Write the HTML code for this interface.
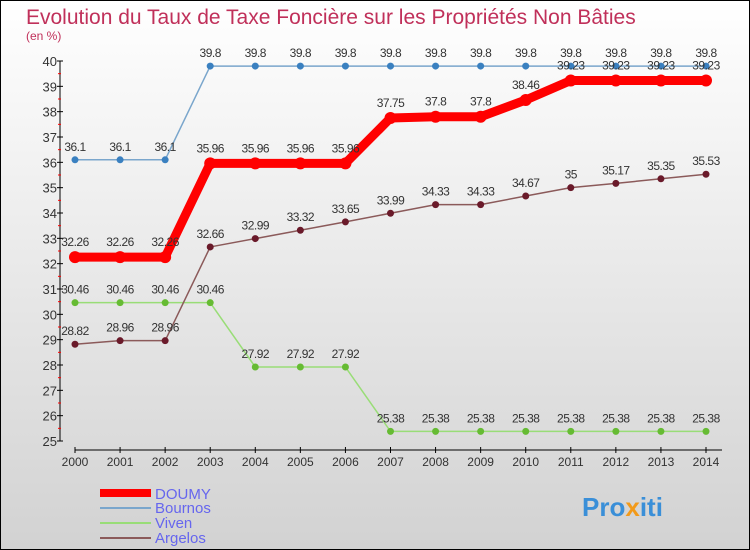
<!DOCTYPE html>
<html><head><meta charset="utf-8"><style>
body{margin:0;width:750px;height:550px;overflow:hidden}
svg{display:block;font-family:"Liberation Sans",sans-serif}
</style></head><body>
<svg id="c" width="750" height="550">
<defs><linearGradient id="bg" x1="0" y1="0" x2="0" y2="1"><stop offset="0" stop-color="#ffffff"/><stop offset="1" stop-color="#d2d2d2"/></linearGradient></defs>
<rect x="0.5" y="0.5" width="749" height="549" fill="url(#bg)" stroke="#000"/>
<text x="26" y="24" font-size="21" fill="#c0305a">Evolution du Taux de Taxe Foncière sur les Propriétés Non Bâties</text>
<text x="26" y="40" font-size="12" fill="#c0305a">(en %)</text>
<g id="axes"></g><g id="series"></g>
<g>
<rect x="100" y="489" width="51" height="8" fill="#f00"/>
<text x="155" y="499" font-size="15" fill="#6666ee">DOUMY</text>
<rect x="100" y="507" width="51" height="2" fill="#7aa6cc"/>
<text x="155" y="513" font-size="15" fill="#6666ee">Bournos</text>
<rect x="100" y="522" width="51" height="2" fill="#99dd77"/>
<text x="155" y="528" font-size="15" fill="#6666ee">Viven</text>
<rect x="100" y="537" width="51" height="2" fill="#8b5a5a"/>
<text x="155" y="543" font-size="15" fill="#6666ee">Argelos</text>
</g>
<text x="582" y="516" font-size="26" font-weight="bold" fill="#3a8fd8">Pro<tspan fill="#f29a1a">x</tspan>iti</text>
</svg>
<script>
const years=[2000,2001,2002,2003,2004,2005,2006,2007,2008,2009,2010,2011,2012,2013,2014];
const doumy=[32.26,32.26,32.26,35.96,35.96,35.96,35.96,37.75,37.8,37.8,38.46,39.23,39.23,39.23,39.23];
const bournos=[36.1,36.1,36.1,39.8,39.8,39.8,39.8,39.8,39.8,39.8,39.8,39.8,39.8,39.8,39.8];
const viven=[30.46,30.46,30.46,30.46,27.92,27.92,27.92,25.38,25.38,25.38,25.38,25.38,25.38,25.38,25.38];
const argelos=[28.82,28.96,28.96,32.66,32.99,33.32,33.65,33.99,34.33,34.33,34.67,35,35.17,35.35,35.53];
const yTicks=[25,26,27,28,29,30,31,32,33,34,35,36,37,38,39,40];
const NS="http://www.w3.org/2000/svg";
const xs=i=>75+i*(706-75)/(years.length-1);
const ys=v=>441-(v-25)*(441-61)/15;
function mk(t,a,p){const e=document.createElementNS(NS,t);for(const k in a)e.setAttribute(k,a[k]);p.appendChild(e);return e;}
const ax=document.getElementById('axes');
let l=mk('line',{x1:60,y1:61,x2:60,y2:441,stroke:'#000'},ax);


yTicks.forEach(v=>{mk('line',{x1:57,x2:63,y1:ys(v),y2:ys(v),stroke:'#000'},ax);
 if(v<40)mk('line',{x1:58,x2:61,y1:ys(v+0.5),y2:ys(v+0.5),stroke:'#f00'},ax);
 const t=mk('text',{x:57,y:ys(v)+5,'font-size':13,'text-anchor':'end',fill:'#333'},ax);t.textContent=v;
 
 });
l=mk('line',{x1:75,y1:450,x2:722,y2:450,stroke:'#000'},ax);


years.forEach((y,i)=>{mk('line',{x1:xs(i),x2:xs(i),y1:447,y2:453,stroke:'#000'},ax);
 const t=mk('text',{x:xs(i),y:466,'font-size':12,'text-anchor':'middle',fill:'#333'},ax);t.textContent=y;
 
 });
const sg=document.getElementById('series');
function draw(name,vals,col,w,r,dot,labOff){
 const g=mk('g',{},sg);
 
 
 mk('polyline',{points:vals.map((v,i)=>xs(i)+','+ys(v)).join(' '),fill:'none',stroke:col,'stroke-width':w,'stroke-linejoin':'round'},g);
 vals.forEach((v,i)=>{const c=mk('circle',{cx:xs(i),cy:ys(v),r:r,fill:dot},g);
  
  
  const t=mk('text',{x:xs(i),y:ys(v)+labOff,'font-size':12,'text-anchor':'middle',fill:'#333','letter-spacing':'-0.5'},g);t.textContent=v;
  
  });
}
draw('bournos',bournos,'#7aa6cc',1.5,3.5,'#3a80c0',-9);
draw('viven',viven,'#99dd77',1.5,3.5,'#66bb33',-9);
draw('argelos',argelos,'#8b5a5a',1.5,3.5,'#6a1a2a',-9);
draw('doumy',doumy,'#f00',9,6,'#f00',-11);
</script>
</body></html>
